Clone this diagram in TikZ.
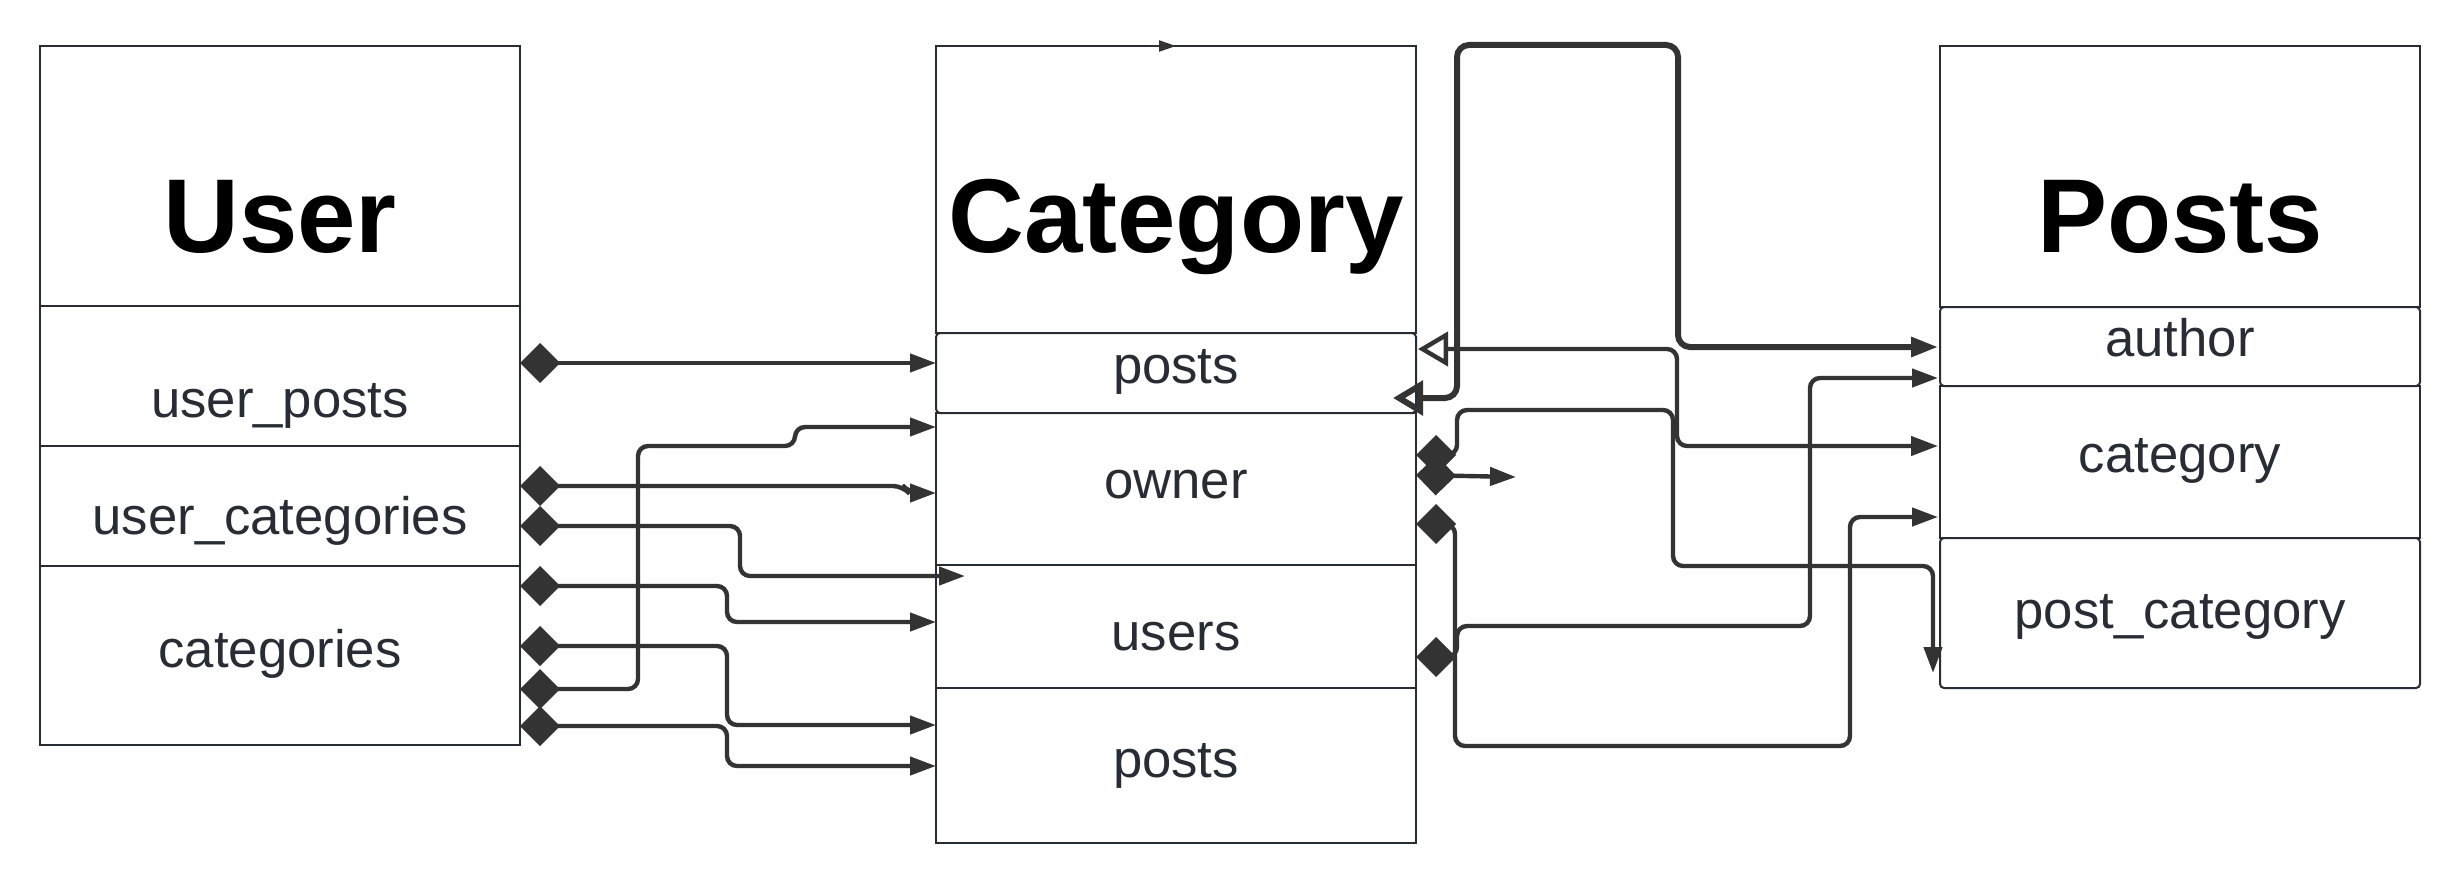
\documentclass[tikz,border=0pt]{standalone}
\usepackage{fontspec}
\setmainfont{Liberation Sans}
\usepackage{tikz}
\usetikzlibrary{arrows.meta}
\usetikzlibrary{positioning}
\definecolor{charcoal}{RGB}{51, 51, 51}
\definecolor{slate}{RGB}{40, 44, 52}

\tikzset{
  cell/.style={draw=slate, line width=1pt, minimum width=240pt, inner sep=0pt, outer sep=0pt},
  heading/.style={font=\bfseries\fontsize{52.5}{60}\selectfont, anchor=base, text=black, inner sep=0pt},
  field/.style={font=\fontsize{26.35}{30}\selectfont, anchor=base, text=slate, inner sep=0pt},
  link/.style={draw=charcoal, line width=2.2pt, rounded corners=5pt},
  comp/.style={link, {Diamond[length=20pt,width=20pt]}-{Triangle[length=13pt,width=9pt]}},
  assoc/.style={link, {Triangle[open,length=15pt,width=17pt]}-{Triangle[length=13.5pt,width=9.5pt]}},
  stub/.style={draw=charcoal, line width=1pt, -{Triangle[length=8.5pt,width=5.5pt]}}
}

\begin{document}
\begin{tikzpicture}[x=0.5pt, y=-0.5pt]
    \useasboundingbox (0,0) rectangle (2460,883);

    % User
    \node[cell, minimum height=130pt]                        (utitle)  at (280,176) {};
    \node[cell, minimum height=70pt,  below=0pt of utitle]   (uposts)  {};
    \node[cell, minimum height=60pt,  below=0pt of uposts]   (ucatsin) {};
    \node[cell, minimum height=89.5pt, below=0pt of ucatsin] (ucats)   {};
    \node[heading] (tuser)   at (280,252) {User};
    \node[field]   (tuposts) at (280,417) {user\_posts};
    \node[field]   (tucatin) at (280,534) {user\_categories};
    \node[field]   (tucats)  at (280,667) {categories};

    % Category
    \node[cell, minimum height=143.5pt]                      (ctitle)  at (1176,189.5) {};
    \node[cell, minimum height=40pt,  below=0pt of ctitle, rounded corners=2pt] (cposts) {};
    \node[cell, minimum height=76pt,  below=0pt of cposts]   (cowner)  {};
    \node[cell, minimum height=61.5pt, below=0pt of cowner]  (cusers)  {};
    \node[cell, minimum height=77.5pt, below=0pt of cusers]  (cpostsb) {};
    \node[heading] (tcat)    at (1176,252) {Category};
    \node[field]   (tcposts) at (1176,383) {posts};
    \node[field]   (tcowner) at (1176,498) {owner};
    \node[field]   (tcusers) at (1176,650) {users};
    \node[field]   (tcpostb) at (1176,777) {posts};

    % Posts
    \node[cell, minimum height=130.5pt]                      (ptitle)  at (2180,176.5) {};
    \node[cell, minimum height=39.5pt, below=0pt of ptitle, rounded corners=2pt] (pauthor) {};
    \node[cell, minimum height=76pt,  below=0pt of pauthor]  (pcat)    {};
    \node[cell, minimum height=75pt,  below=0pt of pcat, rounded corners=2pt] (ppcat) {};
    \node[heading] (tposts)  at (2180,252) {Posts};
    \node[field]   (tpauth)  at (2180,356) {author};
    \node[field]   (tpcat)   at (2180,472) {category};
    \node[field]   (tppcat)  at (2180,628) {post\_category};

    % ports
    \coordinate (u1) at (520,363);
    \coordinate (u2) at (520,486);
    \coordinate (u3) at (520,526);
    \coordinate (u4) at (520,586);
    \coordinate (u5) at (520,646);
    \coordinate (u6) at (520,689);
    \coordinate (u7) at (520,726);
    \coordinate (c1) at (936,363);
    \coordinate (c2) at (936,493);
    \coordinate (c3) at (965,576);
    \coordinate (c4) at (936,622);
    \coordinate (c5) at (936,725);
    \coordinate (c6) at (936,766);
    \coordinate (c7) at (936,427);
    \coordinate (e1) at (1393,398);
    \coordinate (e2) at (1418,349);
    \coordinate (e3) at (1416,455);
    \coordinate (e4) at (1416,475);
    \coordinate (e5) at (1416,524);
    \coordinate (e6) at (1416,657);
    \coordinate (s4) at (1516,477);
    \coordinate (p1) at (1938,347);
    \coordinate (p2) at (1938,446);
    \coordinate (p3) at (1933,673);
    \coordinate (p5) at (1938,517);
    \coordinate (p6) at (1938,378);

    % User -> Category
    \draw[comp] (u1) -- (c1);
    \draw[comp] (u2) -- (903,486) -- (909,493) -- (c2);
    \draw[comp] (u3) -| (740,576) -- (c3);
    \draw[comp] (u4) -| (727,622) -- (c4);
    \draw[comp] (u5) -| (727,725) -- (c5);
    \draw[comp] (u7) -| (727,766) -- (c6);
    \draw[comp] (u6) -| (638,446) -| (795,427) -- (c7);
    \draw[stub] ([xshift=-13pt]ctitle.north) -- (ctitle.north);

    % Category -> Posts
    \draw[assoc, line width=3pt, rounded corners=6pt] (e1) -- (1457,398) -- (1457,45) -- (1678,45) -- (1678,347) -- (p1);
    \draw[assoc] (e2) -| (1677,446) -- (p2);
    \draw[comp] (e3) -| (1457,410) -| (1673,566) -| (p3);
    \draw[comp] (e4) -- (s4);
    \draw[comp] (e5) -| (1455,746) -| (1850,517) -- (p5);
    \draw[comp] (e6) -| (1457,626) -| (1810,378) -- (p6);
\end{tikzpicture}
\end{document}
